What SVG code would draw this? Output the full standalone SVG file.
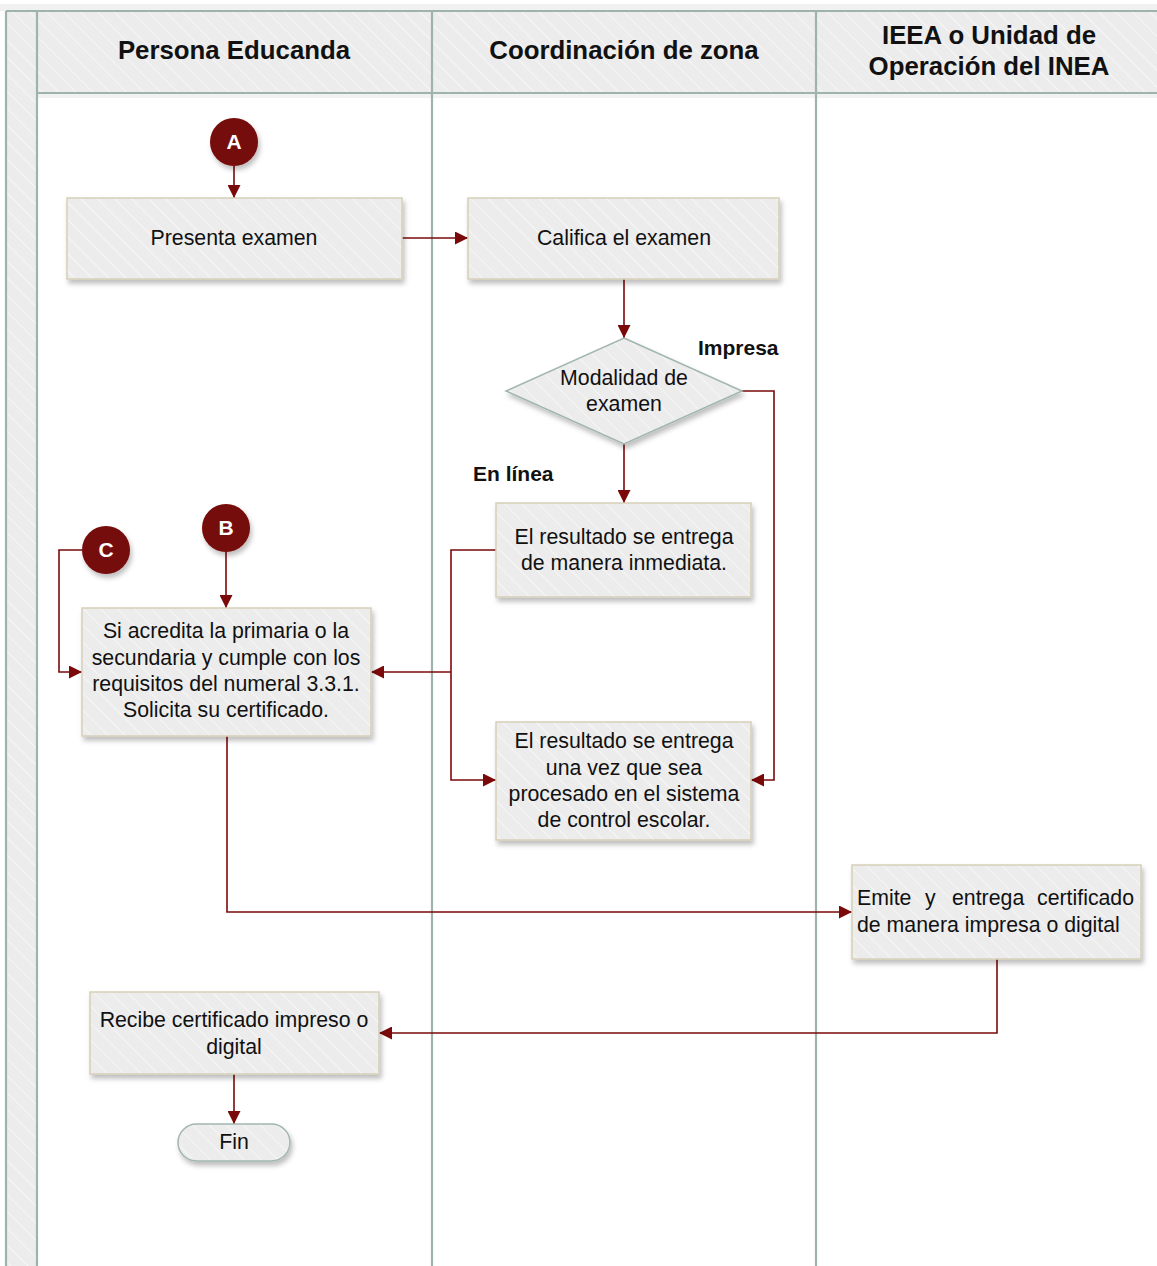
<svg xmlns="http://www.w3.org/2000/svg" width="1157" height="1266" viewBox="0 0 1157 1266">
<style>
.lane{stroke:#9fb3ad;stroke-width:2.2;fill:none}
.box{fill:url(#hatch);stroke:#d6cfb8;stroke-width:1.5;filter:url(#sh)}
.t{font-family:"Liberation Sans",Arial,sans-serif;font-size:21.3px;fill:#111;text-anchor:middle}
.h{font-family:"Liberation Sans",Arial,sans-serif;font-size:25.8px;font-weight:bold;fill:#111;text-anchor:middle}
.lbl{font-family:"Liberation Sans",Arial,sans-serif;font-size:21px;font-weight:bold;fill:#111}
.c{fill:#760808;filter:url(#sh)}
.ct{font-family:"Liberation Sans",Arial,sans-serif;font-size:21px;font-weight:bold;fill:#fff;text-anchor:middle}
.e{stroke:#7a0a0a;stroke-width:1.6;fill:none;marker-end:url(#arr)}
</style>
<defs>
<pattern id="hatch" width="12" height="12" patternUnits="userSpaceOnUse" patternTransform="rotate(-45)">
<rect width="12" height="12" fill="#ececec"/>
<line x1="0" y1="0" x2="0" y2="12" stroke="#f6f6f6" stroke-width="2"/>
</pattern>
<filter id="sh" x="-10%" y="-10%" width="130%" height="140%">
<feDropShadow dx="2" dy="4" stdDeviation="2.5" flood-color="#000" flood-opacity="0.25"/>
</filter>
<marker id="arr" viewBox="0 0 10 10" refX="10" refY="5" markerWidth="13" markerHeight="13" markerUnits="userSpaceOnUse" orient="auto">
<path d="M0,0 L10,5 L0,10 z" fill="#7a0a0a"/>
</marker>
</defs>
<rect width="1157" height="1266" fill="#fff"/>
<rect x="0" y="4" width="1157" height="7" fill="#f1f1f1"/>
<g id="pool">
<rect x="6" y="11" width="31" height="1255" fill="url(#hatch)"/>
<rect x="37" y="11" width="1120" height="82" fill="url(#hatch)"/>
<rect x="37" y="93" width="1120" height="5" fill="#000" opacity="0.05"/>
<line class="lane" x1="6" y1="11" x2="1157" y2="11"/>
<line class="lane" x1="37" y1="93" x2="1157" y2="93"/>
<line class="lane" x1="6" y1="11" x2="6" y2="1266"/>
<line class="lane" x1="37" y1="11" x2="37" y2="1266"/>
<line class="lane" x1="432" y1="11" x2="432" y2="1266"/>
<line class="lane" x1="816" y1="11" x2="816" y2="1266"/>
<text class="h" x="234" y="59">Persona Educanda</text>
<text class="h" x="624" y="59">Coordinación de zona</text>
<text class="h" x="989" y="44">IEEA o Unidad de</text>
<text class="h" x="989" y="75">Operación del INEA</text>
</g>
<g id="connectors">
<path class="e" d="M234,166 L234,198"/>
<path class="e" d="M402,238 L468,238"/>
<path class="e" d="M624,279 L624,338"/>
<path class="e" d="M742,391 L774,391 L774,780 L751,780"/>
<path class="e" d="M624,444 L624,503"/>
<path class="e" d="M496,550 L451,550 L451,780 L496,780"/>
<path class="e" d="M451,672 L371,672"/>
<path class="e" d="M82,550 L59,550 L59,672 L82,672"/>
<path class="e" d="M226,552 L226,608"/>
<path class="e" d="M227,736 L227,912 L852,912"/>
<path class="e" d="M997,959 L997,1033 L379,1033"/>
<path class="e" d="M234,1074 L234,1124"/>
<text class="lbl" x="698" y="355">Impresa</text>
<text class="lbl" x="473" y="481">En línea</text>
</g>
<g id="nodeA"><circle class="c" cx="234" cy="142" r="24"/><text class="ct" x="234" y="149">A</text></g>
<g id="nodeB"><circle class="c" cx="226" cy="528" r="24"/><text class="ct" x="226" y="535">B</text></g>
<g id="nodeC"><circle class="c" cx="106" cy="550" r="24"/><text class="ct" x="106" y="557">C</text></g>
<g id="presenta"><rect class="box" x="67" y="198" width="335" height="81"/><text class="t" x="234" y="245">Presenta examen</text></g>
<g id="califica"><rect class="box" x="468" y="198" width="311" height="81"/><text class="t" x="624" y="245">Califica el examen</text></g>
<g id="modalidad"><path d="M624,338 L742,391 L624,444 L506,391 Z" fill="url(#hatch)" stroke="#a2b6b0" stroke-width="1.5" filter="url(#sh)"/><text class="t" x="624" y="385">Modalidad de</text><text class="t" x="624" y="411">examen</text></g>
<g id="inmediata"><rect class="box" x="496" y="503" width="255" height="94"/><text class="t" x="624" y="544">El resultado se entrega</text><text class="t" x="624" y="570">de manera inmediata.</text></g>
<g id="sistema"><rect class="box" x="496" y="722" width="255" height="118"/><text class="t" x="624" y="748">El resultado se entrega</text><text class="t" x="624" y="775">una vez que sea</text><text class="t" x="624" y="801">procesado en el sistema</text><text class="t" x="624" y="827">de control escolar.</text></g>
<g id="solicita"><rect class="box" x="82" y="608" width="289" height="128"/><text class="t" x="226" y="638">Si acredita la primaria o la</text><text class="t" x="226" y="665">secundaria y cumple con los</text><text class="t" x="226" y="691">requisitos del numeral 3.3.1.</text><text class="t" x="226" y="717">Solicita su certificado.</text></g>
<g id="emite"><rect class="box" x="852" y="865" width="289" height="94"/><text class="t" style="text-anchor:start" y="905"><tspan x="857">Emite</tspan><tspan x="925">y</tspan><tspan x="952">entrega</tspan><tspan x="1037">certificado</tspan></text><text class="t" style="text-anchor:start" x="857" y="932">de manera impresa o digital</text></g>
<g id="recibe"><rect class="box" x="90" y="992" width="289" height="82"/><text class="t" x="234" y="1027">Recibe certificado impreso o</text><text class="t" x="234" y="1054">digital</text></g>
<g id="fin"><rect x="178" y="1124" width="112" height="37" rx="18.5" fill="url(#hatch)" stroke="#a2b6b0" stroke-width="1.5" filter="url(#sh)"/><text class="t" x="234" y="1149">Fin</text></g>
</svg>
